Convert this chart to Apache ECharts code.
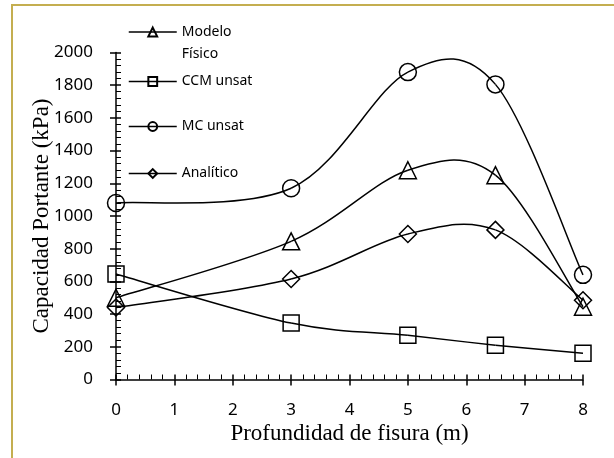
<!DOCTYPE html>
<html>
<head>
<meta charset="utf-8">
<script src="https://cdn.jsdelivr.net/npm/echarts@6/dist/echarts.min.js"></script>
<style>
  html, body { margin: 0; padding: 0; background: #fff; }
  #chart { width: 614px; height: 458px; }
</style>
</head>
<body>
<div id="chart"></div>
<script>
// Crack depth (m) at which each bearing capacity was evaluated
const depths = [0, 3, 5, 6.5, 8];

// Bearing capacity (kPa) for each method
const modeloFisico = [500, 845, 1280, 1250, 445];
const ccmUnsat     = [645, 345, 270, 210, 160];
const mcUnsat      = [1080, 1170, 1880, 1805, 640];
const analitico    = [440, 615, 890, 915, 485];

const seriesNames = ['Modelo Físico', 'CCM unsat', 'MC unsat', 'Analítico'];
const seriesValues = [modeloFisico, ccmUnsat, mcUnsat, analitico];
const seriesSymbols = ['triangle', 'rect', 'circle', 'diamond'];
const seriesSymbolSizes = [17, 16, 17, 17];

const xMin = 0, xMax = 8, xStep = 1;
const yMin = 0, yMax = 2000, yStep = 200;

const chart = echarts.init(document.getElementById('chart'), null, { renderer: 'canvas' });

const tickFont = { fontFamily: 'Noto Sans', fontSize: 17, color: '#000' };
const titleFont = { fontFamily: 'Liberation Serif', fontSize: 23, color: '#000' };

// Smoothed connector: cubic Bezier segments with Catmull-Rom tangents,
// computed in pixel space from the axis coordinates of the data points.
function curveRenderer(values) {
  const n = depths.length;
  return function (params, api) {
    const i = params.dataIndex;
    if (i >= n - 1) return null;
    const pt = j => {
      const k = Math.max(0, Math.min(n - 1, j));
      return api.coord([depths[k], values[k]]);
    };
    const p0 = pt(i - 1), p1 = pt(i), p2 = pt(i + 1), p3 = pt(i + 2);
    return {
      type: 'bezierCurve',
      shape: {
        x1: p1[0], y1: p1[1],
        x2: p2[0], y2: p2[1],
        cpx1: p1[0] + (p2[0] - p0[0]) / 6,
        cpy1: p1[1] + (p2[1] - p0[1]) / 6,
        cpx2: p2[0] - (p3[0] - p1[0]) / 6,
        cpy2: p2[1] - (p3[1] - p1[1]) / 6
      },
      style: { stroke: '#000', lineWidth: 1.5, fill: null },
      silent: true
    };
  };
}

const curveSeries = seriesValues.map(values => ({
  type: 'custom',
  xAxisIndex: 0,
  yAxisIndex: 0,
  data: depths.map((d, j) => [d, values[j]]),
  encode: { x: 0, y: 1 },
  renderItem: curveRenderer(values),
  clip: false,
  silent: true,
  z: 2
}));

// Hollow markers at the measured points
const markerSeries = seriesNames.map((name, i) => ({
  name: name,
  type: 'line',
  xAxisIndex: 0,
  yAxisIndex: 0,
  data: depths.map((d, j) => [d, seriesValues[i][j]]),
  symbol: seriesSymbols[i],
  symbolSize: seriesSymbolSizes[i],
  showAllSymbol: true,
  lineStyle: { color: '#000', width: 1.5, opacity: 0 },
  itemStyle: { color: 'transparent', borderColor: '#000', borderWidth: 1.5 },
  emphasis: { disabled: true },
  silent: true,
  z: 3
}));

// One legend block per series so each entry sits at its own height;
// the first label wraps onto a second line below its icon.
const legendTops = [-1, 74.5, 119.5, 166.5];
const legendText = { fontFamily: 'Noto Sans', fontSize: 14, color: '#000', lineHeight: 22 };
const legends = seriesNames.map((name, i) => ({
  show: true,
  orient: 'vertical',
  left: 128,
  top: legendTops[i],
  padding: 0,
  itemWidth: 48,
  itemHeight: 11,
  selectedMode: false,
  data: [name],
  lineStyle: { color: '#000', width: 1.5, opacity: 1 },
  formatter: n => (n === 'Modelo Físico' ? ' \nModelo\nFísico' : n),
  textStyle: i === 0 ? legendText : Object.assign({}, legendText, { lineHeight: 11 })
}));

chart.setOption({
  animation: false,
  backgroundColor: '#fff',
  grid: { left: 116, right: 31, top: 52.5, bottom: 78.5 },
  legend: legends,
  xAxis: [
    {
      type: 'value', position: 'bottom',
      min: xMin, max: xMax, interval: xStep,
      name: 'Profundidad de fisura (m)',
      nameLocation: 'middle', nameGap: 43,
      nameMoveOverlap: false,
      nameTextStyle: titleFont,
      axisLine: { show: true, onZero: false, lineStyle: { color: '#000', width: 1.5 } },
      axisTick: { show: true, inside: true, length: 5, lineStyle: { color: '#000', width: 1.5 } },
      minorTick: { show: true, splitNumber: 5, length: 5, lineStyle: { color: '#000', width: 1 } },
      axisLabel: Object.assign({ margin: 22, formatter: v => String(v) }, tickFont),
      splitLine: { show: false }
    },
    {
      type: 'value', position: 'bottom',
      min: xMin, max: xMax, interval: xStep,
      axisLine: { show: false },
      axisTick: { show: true, inside: false, length: 6, lineStyle: { color: '#000', width: 1.5 } },
      axisLabel: { show: false },
      splitLine: { show: false }
    }
  ],
  yAxis: [
    {
      type: 'value', position: 'left',
      min: yMin, max: yMax, interval: yStep,
      name: 'Capacidad Portante (kPa)',
      nameLocation: 'middle', nameGap: 63,
      nameMoveOverlap: false,
      nameTextStyle: titleFont,
      axisLine: { show: true, onZero: false, lineStyle: { color: '#000', width: 1.5 } },
      axisTick: { show: true, inside: true, length: 5, lineStyle: { color: '#000', width: 1.5 } },
      minorTick: { show: true, splitNumber: 5, length: 5, lineStyle: { color: '#000', width: 1 } },
      axisLabel: Object.assign({ margin: 23, formatter: v => String(v) }, tickFont),
      splitLine: { show: false }
    },
    {
      type: 'value', position: 'left',
      min: yMin, max: yMax, interval: yStep,
      axisLine: { show: false },
      axisTick: { show: true, inside: false, length: 6, lineStyle: { color: '#000', width: 1.5 } },
      axisLabel: { show: false },
      splitLine: { show: false }
    }
  ],
  graphic: [
    {
      type: 'rect',
      shape: { x: 12, y: 5, width: 700, height: 600 },
      style: { fill: 'none', stroke: '#c4ae50', lineWidth: 2 },
      silent: true,
      z: -1
    }
  ],
  series: curveSeries.concat(markerSeries)
});
</script>
</body>
</html>
